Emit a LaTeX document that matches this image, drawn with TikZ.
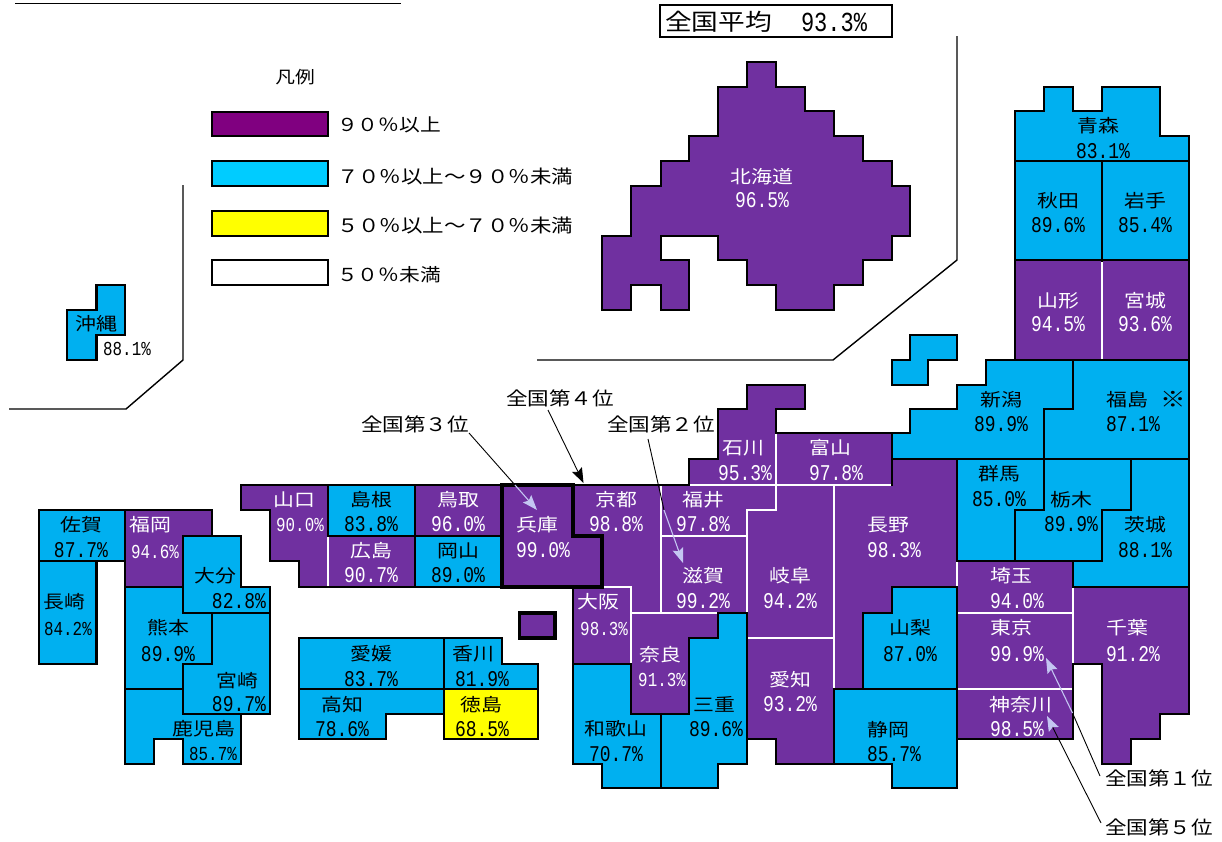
\documentclass[tikz,border=0pt]{standalone}
\usepackage{fontspec}
\usetikzlibrary{arrows.meta}
\setmainfont{Noto Sans CJK JP}[FakeStretch=1.16]
\newfontfamily\pctfont{Liberation Mono}[FakeStretch=.8]
\definecolor{mapp}{HTML}{7030A0}
\definecolor{mapb}{HTML}{00B0F0}
\definecolor{mapy}{HTML}{FFFF00}
\definecolor{legp}{HTML}{800080}
\definecolor{legb}{HTML}{00CCFF}
\definecolor{lav}{HTML}{C4C6F2}
\tikzset{
 pp/.style={fill=mapp,draw=black,line width=2.2pt,line join=miter},
 pb/.style={fill=mapb,draw=black,line width=2.2pt,line join=miter},
 py/.style={fill=mapy,draw=black,line width=2.2pt,line join=miter},
 thickp/.style={draw=black,line width=3.4pt,line join=miter},
 wsep/.style={draw=white,line width=2pt},
 frameline/.style={draw=black,line width=1.4pt},
 legbox/.style={draw=black,line width=1.8pt},
 txt/.style={inner sep=0pt,outer sep=0pt,yshift=-.8pt,font=\fontsize{18}{18}\selectfont},
 rank/.style={inner sep=0pt,outer sep=0pt,font=\fontsize{18.6}{19}\selectfont},
 lgd/.style={inner sep=0pt,outer sep=0pt,anchor=west,font=\fontsize{17.9}{18}\selectfont},
 lgdlong/.style={inner sep=0pt,outer sep=0pt,anchor=west,font=\fontsize{18.5}{19}\selectfont},
 nw/.style={txt,text=white},
 nb/.style={txt,text=black},
 pw/.style={inner sep=0pt,outer sep=0pt,text=white,font=\pctfont\fontsize{22.5}{23}\selectfont},
 pk/.style={inner sep=0pt,outer sep=0pt,text=black,font=\pctfont\fontsize{22.5}{23}\selectfont},
 pws/.style={inner sep=0pt,outer sep=0pt,text=white,font=\pctfont\fontsize{19.8}{20}\selectfont},
 pks/.style={inner sep=0pt,outer sep=0pt,text=black,font=\pctfont\fontsize{19.8}{20}\selectfont},
 conn/.style={draw=black,line width=.9pt},
 connl/.style={draw=lav,line width=1.1pt,-{Stealth[length=15pt,width=11pt,inset=2.5pt,fill=lav]}},
 connk/.style={draw=black,line width=.9pt,-{Stealth[length=15pt,width=11pt,inset=2.5pt,fill=black]}},
 connkl/.style={draw=black,line width=.9pt,-{Stealth[length=15pt,width=11pt,inset=2.5pt,fill=lav,color=lav]}},
}
\begin{document}
\begin{tikzpicture}[x=1pt,y=-1pt]
\useasboundingbox (0,0) rectangle (1222,841);
% title underline (the title itself is cut off by the page edge)
\draw[black,line width=1.8pt] (15,3.5) -- (401,3.5);
% frames
\draw[frameline] (183,185) -- (183,360) -- (126,409) -- (9,409);
\draw[frameline] (957,36) -- (957,260) -- (833,360) -- (537,360);
% legend
\node[nb,font=\fontsize{17}{18}\selectfont] (lgtitle) at (295,76) {凡例};
\draw[legbox,fill=legp] (212,112) rectangle (328,136);
\draw[legbox,fill=legb] (212,161) rectangle (328,186);
\draw[legbox,fill=mapy] (212,211) rectangle (328,236);
\draw[legbox,fill=white] (212,260) rectangle (328,285);
\node[lgd] (lg1) at (337,125) {９０％以上};
\node[lgdlong] (lg2) at (337,176) {７０％以上～９０％未満};
\node[lgdlong] (lg3) at (337,225) {５０％以上～７０％未満};
\node[lgd] (lg4) at (337,275) {５０％未満};
% average
\draw[black,line width=1.8pt,fill=white] (660,5) rectangle (892,37);
\node[inner sep=0pt,anchor=west,font=\fontsize{23}{24}\selectfont] (avg) at (665,22) {全国平均};
\node[inner sep=0pt,font=\pctfont\fontsize{27.5}{28}\selectfont] (avgp) at (834,22) {93.3\%};
% Hokkaido
\draw[pp] (747,62)--(776,62)--(776,87)--(805,87)--(805,111)--(834,111)--(834,136)--(863,136)--(863,161)--(892,161)--(892,186)--(910,186)--(910,236)--(892,236)--(892,260)--(863,260)--(863,285)--(834,285)--(834,310)--(776,310)--(776,285)--(747,285)--(747,260)--(718,260)--(718,236)--(661,236)--(661,260)--(689,260)--(689,310)--(661,310)--(661,285)--(631,285)--(631,310)--(602,310)--(602,236)--(631,236)--(631,186)--(661,186)--(661,161)--(689,161)--(689,136)--(718,136)--(718,87)--(747,87)--cycle;
% Okinawa
\draw[pb] (96.5,285)--(125,285)--(125,335)--(96.5,335)--(96.5,360)--(67,360)--(67,310)--(96.5,310)--cycle;
% Tohoku
\draw[pb] (1015,111)--(1044,111)--(1044,87)--(1073,87)--(1073,111)--(1102,111)--(1102,87)--(1160,87)--(1160,136)--(1189,136)--(1189,161)--(1015,161)--cycle;
\draw[pb] (1015,161) rectangle (1102,260);
\draw[pb] (1102,161) rectangle (1189,260);
\draw[pp] (1015,260) rectangle (1102,360);
\draw[pp] (1102,260) rectangle (1189,360);
\draw[pb] (910,335)--(957,335)--(957,360)--(928,360)--(928,385)--(892,385)--(892,360)--(910,360)--cycle;
\draw[pb] (986,360)--(1073,360)--(1073,409)--(1044,409)--(1044,459)--(892,459)--(892,433)--(910,433)--(910,409)--(957,409)--(957,385)--(986,385)--cycle;
\draw[pb] (1073,360)--(1189,360)--(1189,459)--(1044,459)--(1044,409)--(1073,409)--cycle;
% Kanto
\draw[pb] (957,459)--(1044,459)--(1044,510)--(1015,510)--(1015,561)--(957,561)--cycle;
\draw[pb] (1044,459)--(1131,459)--(1131,510)--(1102,510)--(1102,561)--(1015,561)--(1015,510)--(1044,510)--cycle;
\draw[pb] (1131,459)--(1189,459)--(1189,587)--(1073,587)--(1073,561)--(1102,561)--(1102,510)--(1131,510)--cycle;
\draw[pp] (957,561) rectangle (1073,613);
\draw[pp] (957,613) rectangle (1073,689);
\draw[pp] (957,689) rectangle (1073,739);
\draw[pp] (1073,587)--(1189,587)--(1189,714)--(1160,714)--(1160,739)--(1131,739)--(1131,764)--(1102,764)--(1102,664)--(1073,664)--cycle;
% Chubu
\draw[pp] (747,385)--(805,385)--(805,409)--(776,409)--(776,485)--(689,485)--(689,459)--(718,459)--(718,409)--(747,409)--cycle;
\draw[pp] (776,433) rectangle (892,485);
\draw[pp] (661,485)--(776,485)--(776,510)--(747,510)--(747,536)--(661,536)--cycle;
\draw[pp] (834,485)--(892,485)--(892,459)--(957,459)--(957,587)--(892,587)--(892,613)--(863,613)--(863,689)--(834,689)--cycle;
\draw[pp] (776,485)--(834,485)--(834,638)--(747,638)--(747,510)--(776,510)--cycle;
\draw[pp] (747,638)--(834,638)--(834,764)--(776,764)--(776,739)--(747,739)--cycle;
\draw[pb] (892,587)--(957,587)--(957,689)--(863,689)--(863,613)--(892,613)--cycle;
\draw[pb] (834,689)--(957,689)--(957,788)--(892,788)--(892,764)--(834,764)--cycle;
% Kinki
\draw[pp] (573,485)--(661,485)--(661,613)--(631,613)--(631,587)--(602,587)--(602,536)--(573,536)--cycle;
\draw[pp] (573,587) rectangle (631,664);
\draw[pp] (631,613)--(718,613)--(718,638)--(689,638)--(689,714)--(631,714)--cycle;
\draw[pb] (573,664)--(631,664)--(631,714)--(661,714)--(661,788)--(602,788)--(602,764)--(573,764)--cycle;
\draw[pb] (689,638)--(718,638)--(718,613)--(747,613)--(747,764)--(718,764)--(718,788)--(661,788)--(661,714)--(689,714)--cycle;
\draw[pp] (661,536) rectangle (747,613);
\draw[pp] (519.5,613) rectangle (555,638);
% Chugoku
\draw[pp] (241,485)--(328,485)--(328,587)--(299,587)--(299,561)--(270,561)--(270,510)--(241,510)--cycle;
\draw[pb] (328,485) rectangle (415,536);
\draw[pp] (328,536) rectangle (415,587);
\draw[pp] (415,485) rectangle (502,536);
\draw[pb] (415,536) rectangle (502,587);
\draw[pp] (502,485)--(573,485)--(573,536)--(602,536)--(602,587)--(502,587)--cycle;
% Shikoku
\draw[pb] (299,638) rectangle (444,689);
\draw[pb] (444,638)--(502,638)--(502,664)--(538,664)--(538,689)--(444,689)--cycle;
\draw[pb] (299,689)--(444,689)--(444,714)--(386,714)--(386,739)--(299,739)--cycle;
\draw[py] (444,689) rectangle (538,739);
% Kyushu
\draw[pb] (39,510) rectangle (125,561);
\draw[pb] (39,561) rectangle (96.5,664);
\draw[pp] (125,510)--(212,510)--(212,536)--(183,536)--(183,587)--(125,587)--cycle;
\draw[pb] (125,587)--(183,587)--(183,613)--(212,613)--(212,664)--(183,664)--(183,689)--(125,689)--cycle;
\draw[pb] (212,613)--(270,613)--(270,714)--(183,714)--(183,664)--(212,664)--cycle;
\draw[pb] (183,536)--(241,536)--(241,587)--(270,587)--(270,613)--(183,613)--cycle;
\draw[pb] (125,689)--(183,689)--(183,714)--(241,714)--(241,764)--(183,764)--(183,739)--(154,739)--(154,764)--(125,764)--cycle;
% white separators between purple prefectures
\draw[wsep] (1102,262)--(1102,359);
\draw[wsep] (328,537)--(328,586);
\draw[wsep] (661,486)--(661,612);
\draw[wsep] (662,536)--(746,536);
\draw[wsep] (603,587)--(631,587)--(631,663);
\draw[wsep] (632,613)--(717,613);
\draw[wsep] (690,485)--(776,485)--(776,510)--(747,510)--(747,612);
\draw[wsep] (776,434)--(776,485)--(891,485);
\draw[wsep] (834,486)--(834,688);
\draw[wsep] (748,638)--(833,638);
\draw[wsep] (957,562)--(957,586);
\draw[wsep] (958,613)--(1072,613);
\draw[wsep] (958,689)--(1072,689);
\draw[wsep] (1073,588)--(1073,663);
% thick Hyogo and Awaji outlines
\draw[thickp] (502,485)--(573,485)--(573,536)--(602,536)--(602,587)--(502,587)--cycle;
\draw[thickp] (519.5,613) rectangle (555,638);
% prefecture labels
\node[nw] (n01) at (762,176) {北海道}; \node[pw] (p01) at (762,200) {96.5\%};
\node[nb] (n02) at (1098,125) {青森}; \node[pk] (p02) at (1103,151) {83.1\%};
\node[nb] (n03) at (1058,200) {秋田}; \node[pk] (p03) at (1058,225) {89.6\%};
\node[nb] (n04) at (1145,200) {岩手}; \node[pk] (p04) at (1145,225) {85.4\%};
\node[nw] (n05) at (1058,300) {山形}; \node[pw] (p05) at (1058,324) {94.5\%};
\node[nw] (n06) at (1145,300) {宮城}; \node[pw] (p06) at (1145,324) {93.6\%};
\node[nb] (n07) at (1001,399) {新潟}; \node[pk] (p07) at (1001,424) {89.9\%};
\node[nb] (n08) at (1127,399) {福島}; \node[nb,font=\fontsize{22}{22}\selectfont] (n08b) at (1173,399) {※}; \node[pk] (p08) at (1133,424) {87.1\%};
\node[nw] (n09) at (743,447) {石川}; \node[pw] (p09) at (745,473) {95.3\%};
\node[nw] (n10) at (830,447) {富山}; \node[pw] (p10) at (836,473) {97.8\%};
\node[nw] (n11) at (703,499) {福井}; \node[pw] (p11) at (703,524) {97.8\%};
\node[nw] (n12) at (616,499) {京都}; \node[pw] (p12) at (616,524) {98.8\%};
\node[nw] (n13) at (537,524) {兵庫}; \node[pw] (p13) at (543,550) {99.0\%};
\node[nw] (n14) at (458,499) {鳥取}; \node[pw] (p14) at (458,524) {96.0\%};
\node[nb] (n15) at (371,499) {島根}; \node[pk] (p15) at (371,524) {83.8\%};
\node[nw] (n16) at (294,499) {山口}; \node[pws] (p16) at (300,525) {90.0\%};
\node[nw] (n17) at (371,550) {広島}; \node[pw] (p17) at (371,575) {90.7\%};
\node[nb] (n18) at (458,550) {岡山}; \node[pk] (p18) at (458,575) {89.0\%};
\node[nb] (n19) at (81,524) {佐賀}; \node[pk] (p19) at (81,550) {87.7\%};
\node[nw] (n20) at (150,524) {福岡}; \node[pws] (p20) at (155,552) {94.6\%};
\node[nb] (n21) at (64,601) {長崎}; \node[pks] (p21) at (68,629) {84.2\%};
\node[nb] (n22) at (215,575) {大分}; \node[pk] (p22) at (239,601) {82.8\%};
\node[nb] (n23) at (168,627) {熊本}; \node[pk] (p23) at (168,654) {89.9\%};
\node[nb] (n24) at (237,680) {宮崎}; \node[pk] (p24) at (239,704) {89.7\%};
\node[nb] (n25) at (204,728) {鹿児島}; \node[pks] (p25) at (213,754) {85.7\%};
\node[nb] (n26) at (371,653) {愛媛}; \node[pk] (p26) at (371,679) {83.7\%};
\node[nb] (n27) at (473,653) {香川}; \node[pk] (p27) at (482,679) {81.9\%};
\node[nb] (n28) at (342,704) {高知}; \node[pk] (p28) at (342,729) {78.6\%};
\node[nb] (n29) at (481,704) {徳島}; \node[pk] (p29) at (482,729) {68.5\%};
\node[nw] (n30) at (598,601) {大阪}; \node[pws] (p30) at (604,629) {98.3\%};
\node[nw] (n31) at (660,654) {奈良}; \node[pws] (p31) at (662,680) {91.3\%};
\node[nb] (n32) at (616,728) {和歌山}; \node[pk] (p32) at (616,754) {70.7\%};
\node[nb] (n33) at (714,704) {三重}; \node[pk] (p33) at (716,729) {89.6\%};
\node[nw] (n34) at (703,575) {滋賀}; \node[pw] (p34) at (703,601) {99.2\%};
\node[nw] (n35) at (790,575) {岐阜}; \node[pw] (p35) at (790,601) {94.2\%};
\node[nw] (n36) at (790,679) {愛知}; \node[pw] (p36) at (790,704) {93.2\%};
\node[nw] (n37) at (888,524) {長野}; \node[pw] (p37) at (894,550) {98.3\%};
\node[nb] (n38) at (910,627) {山梨}; \node[pk] (p38) at (910,654) {87.0\%};
\node[nb] (n39) at (888,729) {静岡}; \node[pk] (p39) at (894,754) {85.7\%};
\node[nw] (n40) at (1011,575) {埼玉}; \node[pw] (p40) at (1017,601) {94.0\%};
\node[nw] (n41) at (1011,627) {東京}; \node[pw] (p41) at (1017,654) {99.9\%};
\node[nw] (n42) at (1021,704) {神奈川}; \node[pw] (p42) at (1017,729) {98.5\%};
\node[nw] (n43) at (1127,627) {千葉}; \node[pw] (p43) at (1133,654) {91.2\%};
\node[nb] (n44) at (999,473) {群馬}; \node[pk] (p44) at (999,499) {85.0\%};
\node[nb] (n45) at (1071,499) {栃木}; \node[pk] (p45) at (1071,524) {89.9\%};
\node[nb] (n46) at (1145,524) {茨城}; \node[pk] (p46) at (1145,550) {88.1\%};
\node[nb] (n47) at (96,323) {沖縄}; \node[pks] (p47) at (127,349) {88.1\%};
% ranking labels and arrows
\node[rank] (r4) at (560,398) {全国第４位};
\node[rank] (r3) at (415,424) {全国第３位};
\node[rank] (r2) at (661,424) {全国第２位};
\node[rank] (r1) at (1159,778) {全国第１位};
\node[rank] (r5) at (1159,827) {全国第５位};
\coordinate (s3) at (469,433); \coordinate (m3) at (515,485); \coordinate (t3) at (537,510);
\coordinate (s4) at (548,410); \coordinate (t4) at (583.5,483);
\coordinate (s2) at (648,439); \coordinate (m2) at (664,510); \coordinate (t2) at (683,563);
\coordinate (s1) at (1100,776); \coordinate (m1) at (1072.5,713); \coordinate (t1) at (1046,658);
\coordinate (s5) at (1101,823); \coordinate (t5) at (1047,716);
\draw[conn] (s3) -- (m3); \draw[connl] (m3) -- (t3);
\draw[connk] (s4) -- (t4);
\draw[conn] (s2) -- (m2); \draw[connl] (m2) -- (t2);
\draw[conn] (s1) -- (m1); \draw[connl] (m1) -- (t1);
\draw[connkl] (s5) -- (t5);
\end{tikzpicture}
\end{document}
